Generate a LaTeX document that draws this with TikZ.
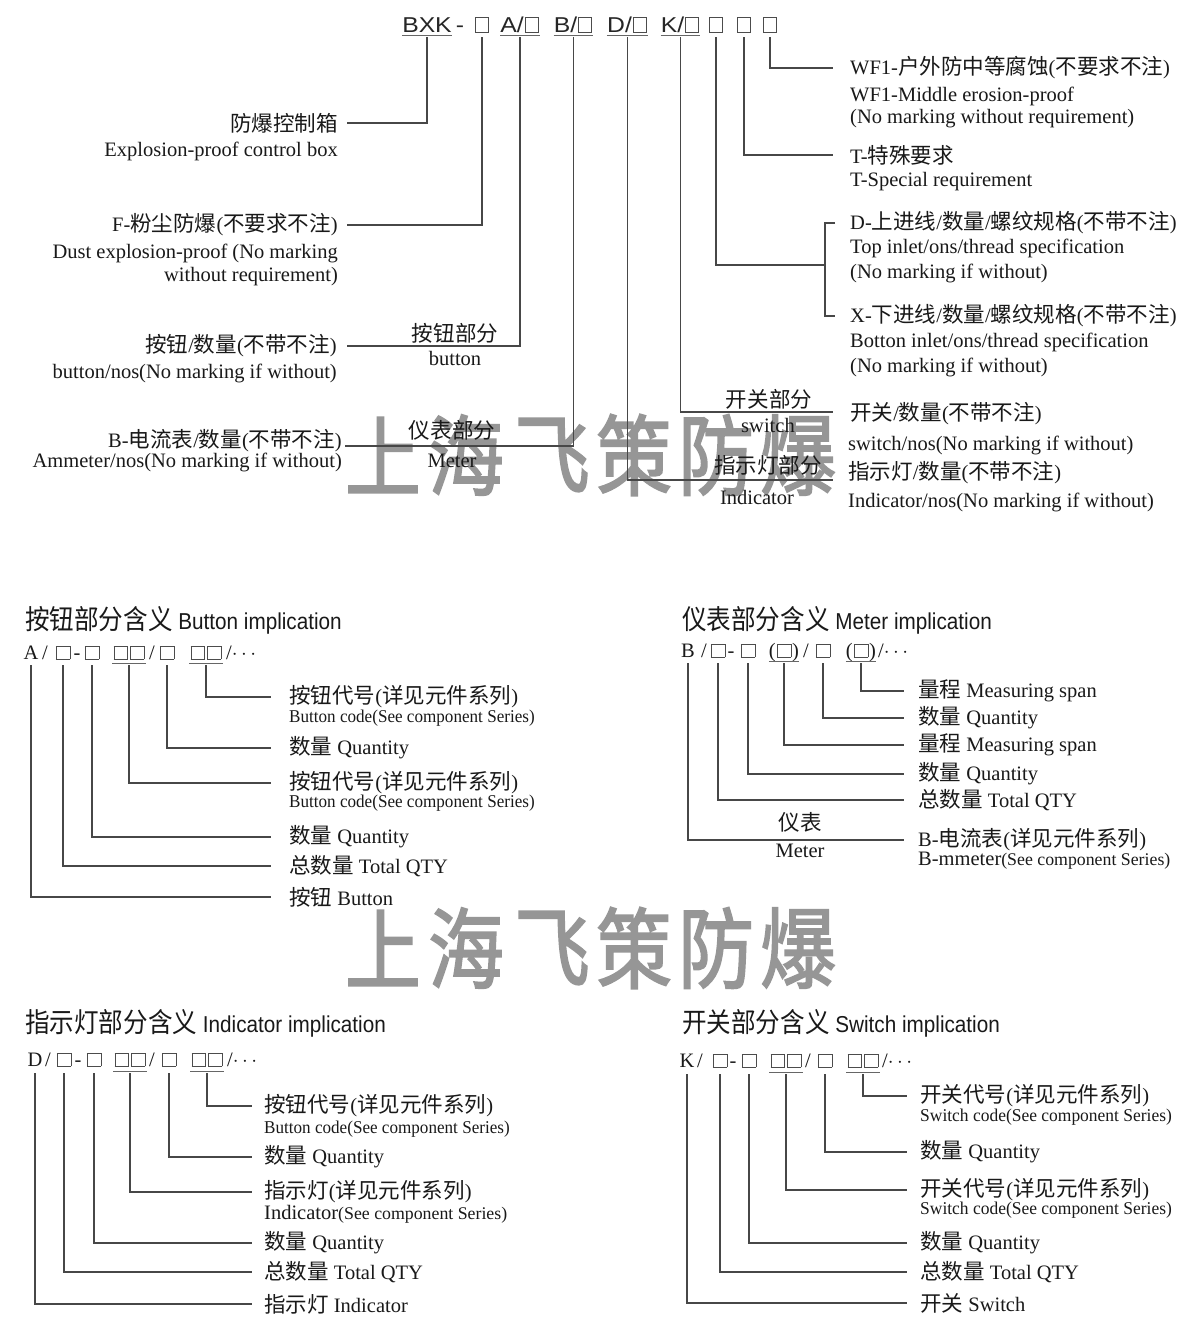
\documentclass[tikz,border=0pt]{standalone}
\usepackage{fontspec}
\setmainfont{Liberation Serif}
\newfontfamily\zhfont{Noto Sans CJK SC}[Scale=1.05]
\newfontfamily\wmfont{Noto Sans CJK SC}[FakeBold=2.2]
\newfontfamily\sansf{Liberation Sans}
\newcommand\zh[1]{{\zhfont #1}}
\newcommand\fsz[1]{\fontsize{#1}{#1}\selectfont}
\newcommand\sqb[2]{\kern1pt{\color{black!70}\setlength\fboxsep{0pt}\setlength\fboxrule{0.7pt}\fbox{\rule{0pt}{#2}\rule{#1}{0pt}}}\kern1pt}
\newcommand\bsq{\sqb{13pt}{12.5pt}}
\newcommand\hsq{\sqb{10.5pt}{14pt}}
\newcommand\hsqs{\sqb{12pt}{14pt}}
\definecolor{wmgray}{RGB}{150,150,150}
\tikzset{
 ln/.style={draw=black!72,line width=1.1pt},
 ul/.style={draw=black!60,line width=1pt},
 lw/.style={inner sep=0pt,anchor=west,font=\fsz{20.5},text=black!90},
 le/.style={inner sep=0pt,anchor=east,font=\fsz{20.5},text=black!90},
 lc/.style={inner sep=0pt,font=\fsz{20.5},text=black!90},
 cd/.style={inner sep=0pt,anchor=base,font=\fsz{20.5},text=black!90},
 hd/.style={inner sep=0pt,anchor=west,font=\sansf\fsz{23},text=black!90},
 ht/.style={inner sep=0pt,anchor=base,font=\sansf\fsz{21.5},text=black!85},
 sm/.style={inner sep=0pt,anchor=west,font=\fsz{18},text=black!90},
 wm/.style={inner sep=0pt,font=\wmfont\fsz{88},text=wmgray},
}
\begin{document}
\begin{tikzpicture}[x=1pt,y=-1pt]
\useasboundingbox (0,0) rectangle (1196,1334);
\fill[white] (0,0) rectangle (1196,1334);
% watermark
\foreach \c/\x in {上/383,海/466,飞/552,策/634,防/716,爆/798}{
  \node[wm] (wa\x) at (\x,455) {\scalebox{0.86}[1]{\c}};
  \node[wm] (wb\x) at (\x,948) {\scalebox{0.86}[1]{\c}};
}
% ---------- top code ----------
\node[ht] (h-bxk) at (427,32) {\scalebox{1.15}[1]{BXK}};
\node[ht] (h-dash) at (460,32) {\scalebox{1.15}[1]{-}};
\node[ht] (h-f) at (482,32) {\hsqs};
\node[ht] (h-a) at (520,32) {\scalebox{1.15}[1]{A/\hsq}};
\node[ht] (h-b) at (573.5,32) {\scalebox{1.15}[1]{B/\hsq}};
\node[ht] (h-d) at (627.5,32) {\scalebox{1.15}[1]{D/\hsq}};
\node[ht] (h-k) at (680.5,32) {\scalebox{1.15}[1]{K/\hsq}};
\node[ht] (h-1) at (716,32) {\hsqs};
\node[ht] (h-2) at (744,32) {\hsqs};
\node[ht] (h-3) at (770,32) {\hsqs};
\foreach \n in {h-bxk,h-a,h-b,h-d,h-k}{
  \draw[ul] (\n.west |- 0,35) -- (\n.east |- 0,35);
}
% left labels
\node[le] (t-box) at (338,123) {\zh{防爆控制箱}};
\node[le] (t-box-e) at (338,151) {Explosion-proof control box};
\node[le] (t-f) at (338,225) {F-\zh{粉尘防爆}(\zh{不要求不注})};
\node[le] (t-f-e1) at (338,253) {Dust explosion-proof (No marking};
\node[le] (t-f-e2) at (338,277) {without requirement)};
\node[le] (t-btn) at (337,346) {\zh{按钮}/\zh{数量}(\zh{不带不注})};
\node[le] (t-btn-e) at (337,373) {button/nos(No marking if without)};
\node[le] (t-amm) at (342,441) {B-\zh{电流表}/\zh{数量}(\zh{不带不注})};
\node[le] (t-amm-e) at (342,462) {Ammeter/nos(No marking if without)};
% middle labels
\node[lc] (p-btn) at (455,333) {\zh{按钮部分}};
\node[lc] (p-btn-e) at (455,358) {button};
\node[lc] (p-met) at (452,430) {\zh{仪表部分}};
\node[lc] (p-met-e) at (452,461) {Meter};
\node[lc] (p-sw) at (769,399) {\zh{开关部分}};
\node[lc] (p-sw-e) at (768,425) {switch};
\node[lc] (p-ind) at (768,465) {\zh{指示灯部分}};
\node[lc] (p-ind-e) at (757,497) {Indicator};
% right labels
\node[lw] (r-wf) at (850,68) {WF1-\zh{户外防中等腐蚀}(\zh{不要求不注})};
\node[lw] (r-wf-e1) at (850,96) {WF1-Middle erosion-proof};
\node[lw] (r-wf-e2) at (850,119) {(No marking without requirement)};
\node[lw] (r-t) at (850,155) {T-\zh{特殊要求}};
\node[lw] (r-t-e) at (850,182) {T-Special requirement};
\node[lw] (r-d) at (850,223) {D-\zh{上进线}/\zh{数量}/\zh{螺纹规格}(\zh{不带不注})};
\node[lw] (r-d-e1) at (850,248) {Top inlet/ons/thread specification};
\node[lw] (r-d-e2) at (850,273) {(No marking if without)};
\node[lw] (r-x) at (850,316) {X-\zh{下进线}/\zh{数量}/\zh{螺纹规格}(\zh{不带不注})};
\node[lw] (r-x-e1) at (850,342) {Botton inlet/ons/thread specification};
\node[lw] (r-x-e2) at (850,367) {(No marking if without)};
\node[lw] (r-k) at (850,414) {\zh{开关}/\zh{数量}(\zh{不带不注})};
\node[lw] (r-k-e) at (848,445) {switch/nos(No marking if without)};
\node[lw] (r-i) at (848,473) {\zh{指示灯}/\zh{数量}(\zh{不带不注})};
\node[lw] (r-i-e) at (848,502) {Indicator/nos(No marking if without)};
% connector ends
\coordinate (e-amm) at (345,446);
\coordinate (e-sw) at (833,412);
\coordinate (e-ind) at (833,480);
\coordinate (e-br) at (825,265);
% top connectors
\draw[ln] (h-bxk.south |- 0,37) |- (t-box.east -| 347,0);
\draw[ln] (h-f.south |- 0,37) |- (t-f.east -| 347,0);
\draw[ln] (h-a.south |- 0,37) |- (t-btn.east -| 347,0);
\draw[ln] (h-b.south |- 0,37) |- (e-amm);
\draw[ln] (h-d.south |- 0,37) |- (e-ind);
\draw[ln] (h-k.south |- 0,37) |- (e-sw);
\draw[ln] (h-1.south |- 0,37) |- (e-br);
\draw[ln] (r-d.west -| 835,0) -| (e-br |- r-x.west) -- (r-x.west -| 835,0);
\draw[ln] (h-2.south |- 0,37) |- (r-t.west -| 833,0);
\draw[ln] (h-3.south |- 0,37) |- (r-wf.west -| 833,0);

% ---------- Button implication ----------
\node[hd] (s-btn) at (25,620) {\scalebox{0.9}[1]{{\fsz{26}\zh{按钮部分含义}} Button implication}};
\node[cd] (a-A) at (31,659) {A};
\node[cd] (a-s1) at (45,659) {/};
\node[cd] (a-1) at (63,659) {\bsq};
\node[cd] (a-m) at (77,659) {-};
\node[cd] (a-2) at (92,659) {\bsq};
\node[cd] (a-3) at (129,659) {\bsq\bsq};
\node[cd] (a-s2) at (152,659) {/};
\node[cd] (a-4) at (167,659) {\bsq};
\node[cd] (a-5) at (206,659) {\bsq\bsq};
\node[cd,anchor=base west] (a-t) at (226,659) {/$\cdots$};
\draw[ul] (a-3.west |- 0,663) -- (a-3.east |- 0,663);
\draw[ul] (a-5.west |- 0,663) -- (a-5.east |- 0,663);
\node[lw] (bl1) at (289,697) {\zh{按钮代号}(\zh{详见元件系列})};
\node[sm] (bl1e) at (289,718) {\scalebox{0.95}[1]{Button code(See component Series)}};
\node[lw] (bl2) at (289,748) {\zh{数量} Quantity};
\node[lw] (bl3) at (289,783) {\zh{按钮代号}(\zh{详见元件系列})};
\node[sm] (bl3e) at (289,803) {\scalebox{0.95}[1]{Button code(See component Series)}};
\node[lw] (bl4) at (289,837) {\zh{数量} Quantity};
\node[lw] (bl5) at (289,866) {\zh{总数量} Total QTY};
\node[lw] (bl6) at (289,897) {\zh{按钮} Button};
\draw[ln] (a-5.south |- 0,665) |- (bl1.west -| 271,0);
\draw[ln] (a-4.south |- 0,665) |- (bl2.west -| 271,0);
\draw[ln] (a-3.south |- 0,665) |- (bl3.west -| 271,0);
\draw[ln] (a-2.south |- 0,665) |- (bl4.west -| 271,0);
\draw[ln] (a-1.south |- 0,665) |- (bl5.west -| 271,0);
\draw[ln] (a-A.south |- 0,665) |- (bl6.west -| 271,0);

% ---------- Meter implication ----------
\node[hd] (s-met) at (682,620) {\scalebox{0.9}[1]{{\fsz{26}\zh{仪表部分含义}} Meter implication}};
\node[cd] (m-B) at (688,657) {B};
\node[cd] (m-s1) at (704,657) {/};
\node[cd] (m-1) at (718,657) {\bsq};
\node[cd] (m-m) at (731,657) {-};
\node[cd] (m-2) at (748,657) {\bsq};
\node[cd] (m-3) at (784,657) {(\bsq)};
\node[cd] (m-s2) at (806,657) {/};
\node[cd] (m-4) at (823,657) {\bsq};
\node[cd] (m-5) at (861,657) {(\bsq)};
\node[cd,anchor=base west] (m-t) at (878,657) {/$\cdots$};
\draw[ul] (m-3.west |- 0,661) -- (m-3.east |- 0,661);
\draw[ul] (m-5.west |- 0,661) -- (m-5.east |- 0,661);
\node[lw] (ml1) at (918,691) {\zh{量程} Measuring span};
\node[lw] (ml2) at (918,718) {\zh{数量} Quantity};
\node[lw] (ml3) at (918,745) {\zh{量程} Measuring span};
\node[lw] (ml4) at (918,774) {\zh{数量} Quantity};
\node[lw] (ml5) at (918,800) {\zh{总数量} Total QTY};
\node[lw] (ml6) at (918,840) {B-\zh{电流表}(\zh{详见元件系列})};
\node[lw] (ml6e) at (918,861) {B-mmeter{\fsz{17.8}(See component Series)}};
\node[lc] (m-lab) at (800,822) {\zh{仪表}};
\node[lc] (m-lab-e) at (800,851) {Meter};
\draw[ln] (m-5.south |- 0,663) |- (ml1.west -| 904,0);
\draw[ln] (m-4.south |- 0,663) |- (ml2.west -| 904,0);
\draw[ln] (m-3.south |- 0,663) |- (ml3.west -| 904,0);
\draw[ln] (m-2.south |- 0,663) |- (ml4.west -| 904,0);
\draw[ln] (m-1.south |- 0,663) |- (ml5.west -| 904,0);
\draw[ln] (m-B.south |- 0,663) |- (ml6.west -| 904,0);

% ---------- Indicator implication ----------
\node[hd] (s-ind) at (25,1023) {\scalebox{0.9}[1]{{\fsz{26}\zh{指示灯部分含义}} Indicator implication}};
\node[cd] (i-D) at (35,1066) {D};
\node[cd] (i-s1) at (48,1066) {/};
\node[cd] (i-1) at (64,1066) {\bsq};
\node[cd] (i-m) at (78,1066) {-};
\node[cd] (i-2) at (94,1066) {\bsq};
\node[cd] (i-3) at (130,1066) {\bsq\bsq};
\node[cd] (i-s2) at (152,1066) {/};
\node[cd] (i-4) at (169,1066) {\bsq};
\node[cd] (i-5) at (207,1066) {\bsq\bsq};
\node[cd,anchor=base west] (i-t) at (227,1066) {/$\cdots$};
\draw[ul] (i-3.west |- 0,1071) -- (i-3.east |- 0,1071);
\draw[ul] (i-5.west |- 0,1071) -- (i-5.east |- 0,1071);
\node[lw] (il1) at (264,1106) {\zh{按钮代号}(\zh{详见元件系列})};
\node[sm] (il1e) at (264,1129) {\scalebox{0.95}[1]{Button code(See component Series)}};
\node[lw] (il2) at (264,1157) {\zh{数量} Quantity};
\node[lw] (il3) at (264,1192) {\zh{指示灯}(\zh{详见元件系列})};
\node[lw] (il3e) at (264,1214) {Indicator{\fsz{17.8}(See component Series)}};
\node[lw] (il4) at (264,1243) {\zh{数量} Quantity};
\node[lw] (il5) at (264,1272) {\zh{总数量} Total QTY};
\node[lw] (il6) at (264,1304) {\zh{指示灯} Indicator};
\draw[ln] (i-5.south |- 0,1073) |- (il1.west -| 252,0);
\draw[ln] (i-4.south |- 0,1073) |- (il2.west -| 252,0);
\draw[ln] (i-3.south |- 0,1073) |- (il3.west -| 252,0);
\draw[ln] (i-2.south |- 0,1073) |- (il4.west -| 252,0);
\draw[ln] (i-1.south |- 0,1073) |- (il5.west -| 252,0);
\draw[ln] (i-D.south |- 0,1073) |- (il6.west -| 252,0);

% ---------- Switch implication ----------
\node[hd] (s-sw) at (682,1023) {\scalebox{0.9}[1]{{\fsz{26}\zh{开关部分含义}} Switch implication}};
\node[cd] (k-K) at (687,1067) {K};
\node[cd] (k-s1) at (700,1067) {/};
\node[cd] (k-1) at (720,1067) {\bsq};
\node[cd] (k-m) at (733,1067) {-};
\node[cd] (k-2) at (749,1067) {\bsq};
\node[cd] (k-3) at (786,1067) {\bsq\bsq};
\node[cd] (k-s2) at (808,1067) {/};
\node[cd] (k-4) at (825,1067) {\bsq};
\node[cd] (k-5) at (863,1067) {\bsq\bsq};
\node[cd,anchor=base west] (k-t) at (882,1067) {/$\cdots$};
\draw[ul] (k-3.west |- 0,1072) -- (k-3.east |- 0,1072);
\draw[ul] (k-5.west |- 0,1072) -- (k-5.east |- 0,1072);
\node[lw] (kl1) at (920,1096) {\zh{开关代号}(\zh{详见元件系列})};
\node[sm] (kl1e) at (920,1117) {\scalebox{0.97}[1]{Switch code(See component Series)}};
\node[lw] (kl2) at (920,1152) {\zh{数量} Quantity};
\node[lw] (kl3) at (920,1190) {\zh{开关代号}(\zh{详见元件系列})};
\node[sm] (kl3e) at (920,1210) {\scalebox{0.97}[1]{Switch code(See component Series)}};
\node[lw] (kl4) at (920,1243) {\zh{数量} Quantity};
\node[lw] (kl5) at (920,1272) {\zh{总数量} Total QTY};
\node[lw] (kl6) at (920,1303) {\zh{开关} Switch};
\draw[ln] (k-5.south |- 0,1074) |- (kl1.west -| 907,0);
\draw[ln] (k-4.south |- 0,1074) |- (kl2.west -| 907,0);
\draw[ln] (k-3.south |- 0,1074) |- (kl3.west -| 907,0);
\draw[ln] (k-2.south |- 0,1074) |- (kl4.west -| 907,0);
\draw[ln] (k-1.south |- 0,1074) |- (kl5.west -| 907,0);
\draw[ln] (k-K.south |- 0,1074) |- (kl6.west -| 907,0);
\end{tikzpicture}
\end{document}
